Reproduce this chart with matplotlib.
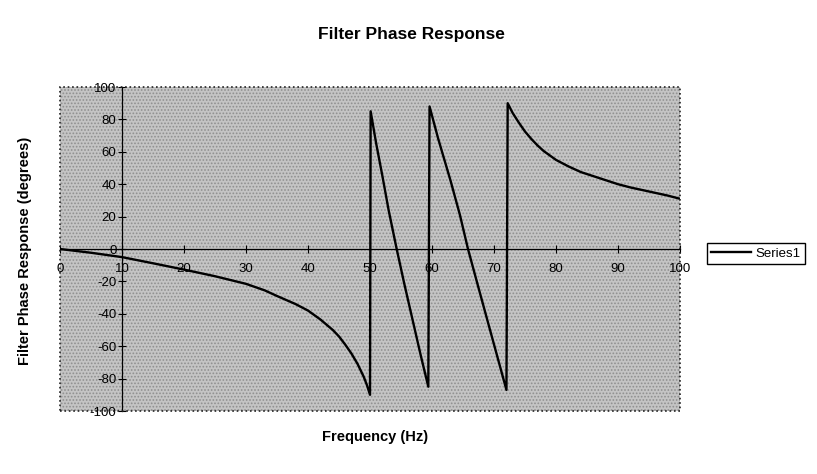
import matplotlib
matplotlib.use('Agg')
import matplotlib.pyplot as plt
from matplotlib.patches import Rectangle

# phase response (Hz, degrees)
freq = [0, 5, 10, 15, 20, 25, 30, 33, 35, 38, 40, 42, 44, 45, 46, 47, 48, 49, 49.5, 50.0,
        50.1, 51, 52, 53, 54.3, 55.5, 57, 58.2, 59.4,
        59.6, 61, 63, 64.5, 65.8, 67.5, 69, 70.5, 72.0,
        72.2, 72.6, 73, 73.5, 74, 75, 76, 77, 78, 80, 82, 84, 86, 88, 90, 92, 95, 98, 100]
phase = [0, -2.3, -5, -8.8, -12.7, -16.8, -21.5, -25.5, -29, -34, -38, -43.5, -50, -54, -59, -64.5, -71, -79, -84, -90,
         85, 65, 45, 24, 0, -21, -46, -66, -85,
         88, 68, 42, 21, 0, -24, -45, -66, -87,
         90, 87, 84, 81, 78, 72.5, 68, 64, 60.5, 55, 51, 47.5, 45, 42.5, 40, 38, 35.5, 33, 31]

xticks = list(range(0, 101, 10))
yticks = list(range(-100, 101, 20))

plt.rcParams['font.family'] = ['Liberation Sans', 'DejaVu Sans']
plt.rcParams['axes.unicode_minus'] = False
plt.rcParams['hatch.linewidth'] = 0.8

fig = plt.figure(figsize=(8.17, 4.74), dpi=100)
ax = fig.add_axes([0.0734, 0.1329, 0.759, 0.6835])
ax.set_facecolor('#c4c4c4')
# dithered grey look of the plot area
ax.add_patch(Rectangle((0, 0), 1, 1, transform=ax.transAxes, facecolor='none',
                       edgecolor='#8f8f8f', hatch='.....', lw=0, zorder=0))

line, = ax.plot(freq, phase, color='black', lw=1.7, label='Series1', zorder=3)

ax.set_xlim(0, 100)
ax.set_ylim(-100, 100)
ax.set_xticks(xticks)
ax.set_yticks(yticks)

# axes cross inside the plot area
ax.spines['left'].set_position(('data', 10))
ax.spines['bottom'].set_position(('data', 0))
for s in ['top', 'right']:
    ax.spines[s].set_visible(False)
ax.spines['left'].set_linewidth(0.9)
ax.spines['bottom'].set_linewidth(0.9)
ax.tick_params(axis='both', direction='inout', length=6, width=0.8, labelsize=9.5)
ax.tick_params(axis='x', pad=7)
ax.tick_params(axis='y', pad=1)

# dotted plot-area border
ax.add_patch(Rectangle((0, 0), 1, 1, transform=ax.transAxes, fill=False,
                       ls=':', lw=1.2, ec='#222222', clip_on=False, zorder=5))

fig.text(0.503, 0.928, 'Filter Phase Response', ha='center', va='center',
         fontsize=12.5, fontweight='bold')
fig.text(0.459, 0.078, 'Frequency (Hz)', ha='center', va='center',
         fontsize=10.5, fontweight='bold')
fig.text(0.03, 0.47, 'Filter Phase Response (degrees)', ha='center', va='center',
         rotation=90, fontsize=10.5, fontweight='bold')

fig.legend(handles=[line], loc='upper left', bbox_to_anchor=(0.857, 0.502),
           frameon=True, fancybox=False, edgecolor='black', framealpha=1,
           fontsize=9.5, handlelength=3.0, handletextpad=0.3, borderpad=0.35)

fig.savefig('out.png', dpi=100)
